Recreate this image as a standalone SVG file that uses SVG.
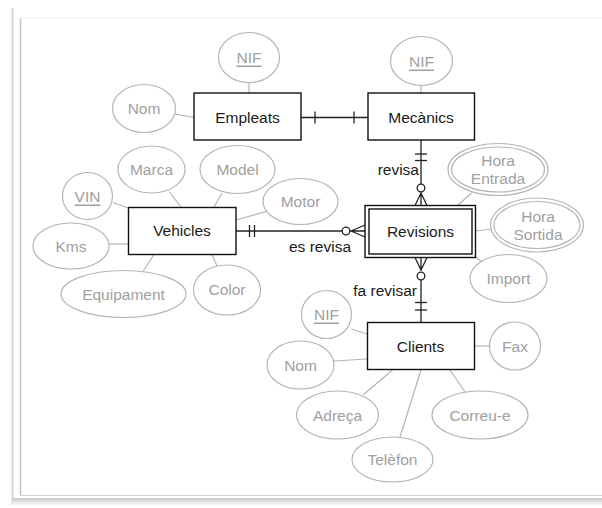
<svg xmlns="http://www.w3.org/2000/svg" width="602" height="508" viewBox="0 0 602 508">
  <defs>
    <linearGradient id="shadowBottom" x1="0" y1="0" x2="0" y2="1">
      <stop offset="0" stop-color="#c8c8c8"/>
      <stop offset="1" stop-color="#ffffff"/>
    </linearGradient>
    <style>
      .entity { fill: #ffffff; stroke: #111111; stroke-width: 1.4; }
      .attr { fill: #ffffff; stroke: #b4b4b4; stroke-width: 1.2; }
      .attr-link { stroke: #b4b4b4; stroke-width: 1.2; fill: none; }
      .rel { stroke: #222222; stroke-width: 1.3; fill: none; }
      .opt { fill: #ffffff; stroke: #222222; stroke-width: 1.3; }
      .ename { font-family: "Liberation Sans", Arial, sans-serif; font-size: 15.5px; fill: #1a1a1a; text-anchor: middle; dominant-baseline: central; }
      .aname { font-family: "Liberation Sans", Arial, sans-serif; font-size: 15.5px; fill: #a0a0a0; text-anchor: middle; dominant-baseline: central; }
      .key { text-decoration: underline; }
      .rname { font-family: "Liberation Sans", Arial, sans-serif; font-size: 15.5px; fill: #1a1a1a; dominant-baseline: central; }
    </style>
  </defs>

  <!-- page frame -->
  <g id="frame">
    <rect x="0" y="0" width="602" height="508" fill="#ffffff"/>
    <line x1="12.5" y1="8" x2="12.5" y2="505" stroke="#d4d4d4" stroke-width="2"/>
    <line x1="20.5" y1="18" x2="20.5" y2="495" stroke="#c4c4c4" stroke-width="1.5"/>
    <line x1="20" y1="18" x2="602" y2="18" stroke="#f0f0f0" stroke-width="1"/>
    <line x1="20" y1="495.5" x2="602" y2="495.5" stroke="#d0d0d0" stroke-width="1.2"/>
    <rect x="12" y="498" width="590" height="8" fill="url(#shadowBottom)"/>
  </g>

  <!-- attribute links and relationships -->
  <g id="connectors">
    <!-- attribute links -->
    <line class="attr-link" x1="249" y1="82" x2="249" y2="93"/>
    <line class="attr-link" x1="175" y1="114" x2="194" y2="117.5"/>
    <line class="attr-link" x1="421" y1="85" x2="421" y2="93"/>
    <line class="attr-link" x1="169" y1="191.5" x2="181" y2="207"/>
    <line class="attr-link" x1="222" y1="193" x2="214" y2="207"/>
    <line class="attr-link" x1="113" y1="202.5" x2="128" y2="208"/>
    <line class="attr-link" x1="236" y1="220" x2="266" y2="211.5"/>
    <line class="attr-link" x1="109" y1="244" x2="128" y2="244"/>
    <line class="attr-link" x1="143" y1="271.5" x2="154" y2="254.5"/>
    <line class="attr-link" x1="212" y1="254.5" x2="217" y2="266"/>
    <line class="attr-link" x1="471.5" y1="193" x2="457" y2="206"/>
    <line class="attr-link" x1="475.5" y1="231" x2="491.5" y2="229"/>
    <line class="attr-link" x1="475.5" y1="257" x2="482" y2="262"/>
    <line class="attr-link" x1="351.5" y1="329" x2="367" y2="334"/>
    <line class="attr-link" x1="334" y1="361" x2="367" y2="359"/>
    <line class="attr-link" x1="363" y1="395" x2="392.5" y2="370"/>
    <line class="attr-link" x1="400" y1="437" x2="421" y2="370"/>
    <line class="attr-link" x1="450" y1="370" x2="465" y2="392"/>
    <line class="attr-link" x1="474" y1="346" x2="490" y2="346"/>

    <!-- Empleats – Mecànics (one to one) -->
    <line class="rel" x1="301" y1="117.5" x2="368" y2="117.5"/>
    <line class="rel" x1="315" y1="111.5" x2="315" y2="123.5"/>
    <line class="rel" x1="354" y1="111.5" x2="354" y2="123.5"/>

    <!-- Mecànics – Revisions (revisa) -->
    <line class="rel" x1="421" y1="140" x2="421" y2="184"/>
    <line class="rel" x1="415" y1="154" x2="427" y2="154"/>
    <line class="rel" x1="415" y1="160.5" x2="427" y2="160.5"/>
    <path class="rel" d="M421 192 L421 205.5 M421 193 L415 205.5 M421 193 L427 205.5"/>
    <circle class="opt" cx="421" cy="188" r="3.8"/>

    <!-- Vehicles – Revisions (es revisa) -->
    <line class="rel" x1="236" y1="231" x2="342" y2="231"/>
    <line class="rel" x1="249.5" y1="225" x2="249.5" y2="237"/>
    <line class="rel" x1="254.5" y1="225" x2="254.5" y2="237"/>
    <path class="rel" d="M350 231 L365 231 M351 231 L365 225 M351 231 L365 237"/>
    <circle class="opt" cx="346" cy="231" r="3.8"/>

    <!-- Revisions – Clients (fa revisar) -->
    <path class="rel" d="M421 257.5 L421 271 M415 257.5 L421 270 M427 257.5 L421 270"/>
    <circle class="opt" cx="421" cy="276" r="3.8"/>
    <line class="rel" x1="421" y1="280" x2="421" y2="322.5"/>
    <line class="rel" x1="415" y1="302.5" x2="427" y2="302.5"/>
    <line class="rel" x1="415" y1="310" x2="427" y2="310"/>

    <text class="rname" x="419" y="169" text-anchor="end">revisa</text>
    <text class="rname" x="320" y="246.5" text-anchor="middle">es revisa</text>
    <text class="rname" x="417" y="290" text-anchor="end">fa revisar</text>
  </g>

  <!-- entities -->
  <g id="empleats">
    <rect class="entity" x="194" y="93" width="107" height="47"/>
    <text class="ename" x="247.5" y="117">Empleats</text>
  </g>
  <g id="mecanics">
    <rect class="entity" x="368" y="93" width="106.5" height="47"/>
    <text class="ename" x="421" y="117">Mecànics</text>
  </g>
  <g id="vehicles">
    <rect class="entity" x="128.5" y="207.5" width="107.5" height="47"/>
    <text class="ename" x="182" y="230.5">Vehicles</text>
  </g>
  <g id="revisions">
    <rect class="entity" x="365" y="205.5" width="110.5" height="52"/>
    <rect class="entity" x="369" y="209" width="103" height="45"/>
    <text class="ename" x="420.5" y="231">Revisions</text>
  </g>
  <g id="clients">
    <rect class="entity" x="367.5" y="322.5" width="107" height="47"/>
    <text class="ename" x="420.5" y="346.5">Clients</text>
  </g>

  <!-- attributes of Empleats -->
  <g id="empleats-nif">
    <ellipse class="attr" cx="249" cy="57.5" rx="30.5" ry="25"/>
    <text class="aname key" x="249" y="57">NIF</text>
  </g>
  <g id="empleats-nom">
    <ellipse class="attr" cx="144" cy="108.5" rx="31.5" ry="24"/>
    <text class="aname" x="144" y="108">Nom</text>
  </g>

  <!-- attributes of Mecànics -->
  <g id="mecanics-nif">
    <ellipse class="attr" cx="421.5" cy="61" rx="31" ry="24.5"/>
    <text class="aname key" x="421.5" y="61">NIF</text>
  </g>

  <!-- attributes of Vehicles -->
  <g id="vehicles-marca">
    <ellipse class="attr" cx="151.5" cy="169.5" rx="33.5" ry="23.5"/>
    <text class="aname" x="151.5" y="169">Marca</text>
  </g>
  <g id="vehicles-model">
    <ellipse class="attr" cx="237.5" cy="169.5" rx="37.5" ry="24"/>
    <text class="aname" x="237.5" y="169">Model</text>
  </g>
  <g id="vehicles-vin">
    <ellipse class="attr" cx="87.5" cy="196" rx="25" ry="23.5"/>
    <text class="aname key" x="87.5" y="196">VIN</text>
  </g>
  <g id="vehicles-motor">
    <ellipse class="attr" cx="300.5" cy="201.5" rx="37.5" ry="23"/>
    <text class="aname" x="300.5" y="201">Motor</text>
  </g>
  <g id="vehicles-kms">
    <ellipse class="attr" cx="71" cy="246" rx="38" ry="23"/>
    <text class="aname" x="71" y="246">Kms</text>
  </g>
  <g id="vehicles-equipament">
    <ellipse class="attr" cx="123.5" cy="294" rx="62.5" ry="23.5"/>
    <text class="aname" x="123.5" y="294">Equipament</text>
  </g>
  <g id="vehicles-color">
    <ellipse class="attr" cx="227" cy="290" rx="33.5" ry="25"/>
    <text class="aname" x="227" y="289.5">Color</text>
  </g>

  <!-- attributes of Revisions -->
  <g id="revisions-hora-entrada">
    <ellipse class="attr" cx="498" cy="169.5" rx="50" ry="26"/>
    <ellipse class="attr" cx="498" cy="169.5" rx="46.5" ry="22.5"/>
    <text class="aname" x="498" y="160.5">Hora</text>
    <text class="aname" x="498" y="178.5">Entrada</text>
  </g>
  <g id="revisions-hora-sortida">
    <ellipse class="attr" cx="537" cy="225" rx="46.5" ry="27"/>
    <ellipse class="attr" cx="537" cy="225" rx="43" ry="23.5"/>
    <text class="aname" x="538" y="216">Hora</text>
    <text class="aname" x="538" y="234">Sortida</text>
  </g>
  <g id="revisions-import">
    <ellipse class="attr" cx="508.5" cy="278.5" rx="38.5" ry="24"/>
    <text class="aname" x="508.5" y="278.5">Import</text>
  </g>

  <!-- attributes of Clients -->
  <g id="clients-nif">
    <ellipse class="attr" cx="326.5" cy="314.5" rx="25" ry="24"/>
    <text class="aname key" x="326.5" y="314">NIF</text>
  </g>
  <g id="clients-nom">
    <ellipse class="attr" cx="300.5" cy="365" rx="33.5" ry="24"/>
    <text class="aname" x="300.5" y="365">Nom</text>
  </g>
  <g id="clients-adreca">
    <ellipse class="attr" cx="337.5" cy="415" rx="41" ry="24"/>
    <text class="aname" x="337.5" y="415">Adreça</text>
  </g>
  <g id="clients-telefon">
    <ellipse class="attr" cx="392.5" cy="459.5" rx="40.5" ry="22.5"/>
    <text class="aname" x="392.5" y="459.5">Telèfon</text>
  </g>
  <g id="clients-correu">
    <ellipse class="attr" cx="480" cy="415" rx="48" ry="24"/>
    <text class="aname" x="480" y="415">Correu-e</text>
  </g>
  <g id="clients-fax">
    <ellipse class="attr" cx="515" cy="346" rx="25.5" ry="24"/>
    <text class="aname" x="515" y="346">Fax</text>
  </g>
</svg>
